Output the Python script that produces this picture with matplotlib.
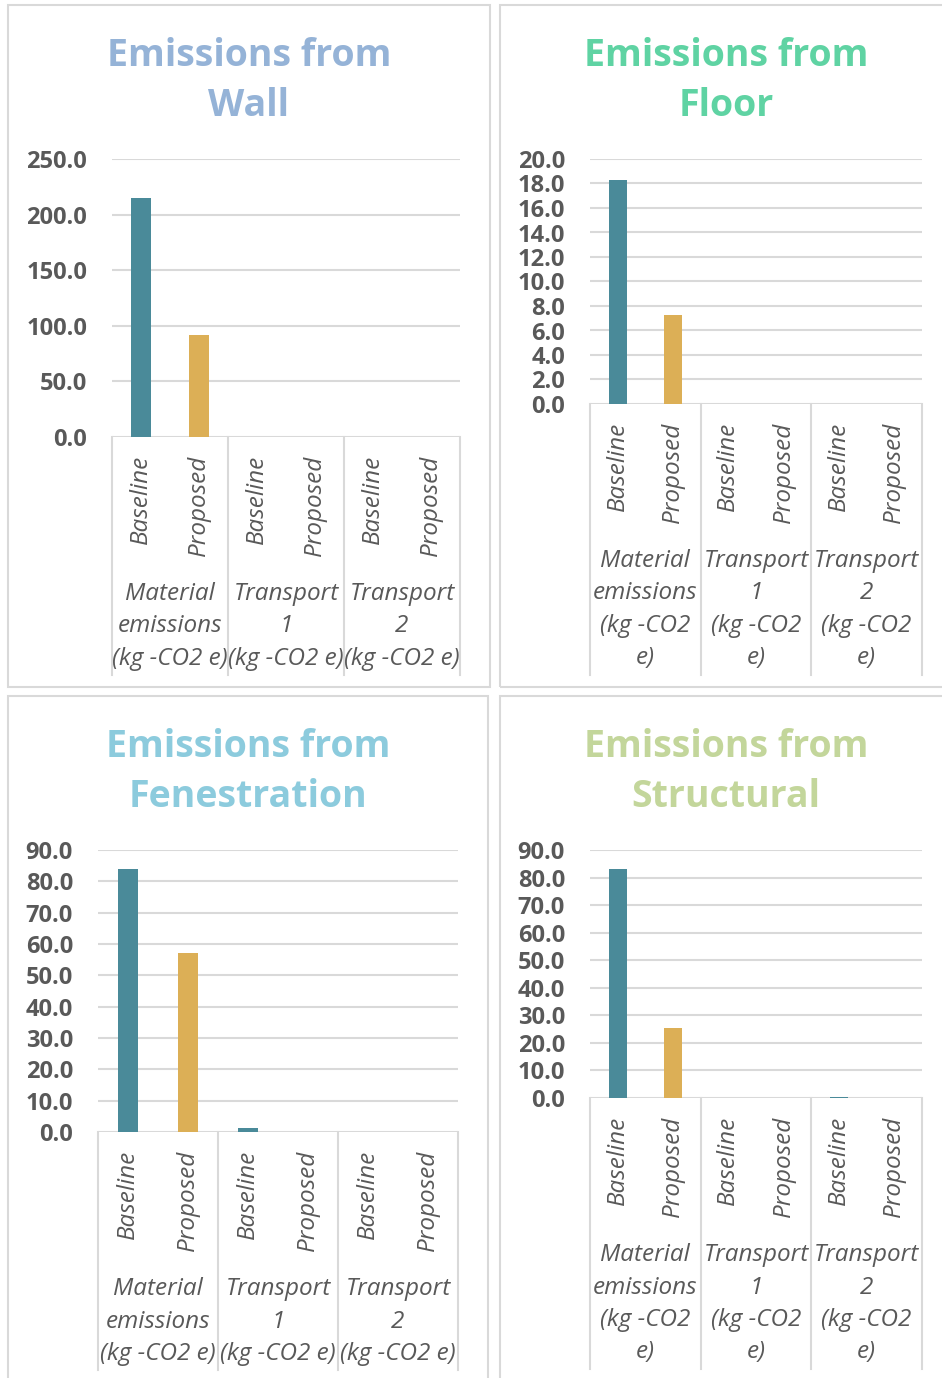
import numpy as np
import matplotlib.pyplot as plt
from matplotlib.patches import Rectangle
from matplotlib.lines import Line2D
from matplotlib.transforms import offset_copy

plt.rcParams['font.family'] = ['Open Sans', 'DejaVu Sans']

W, H = 942, 1378

series = ["Baseline", "Proposed"]
groups_wide = ["Material\nemissions\n(kg -CO2 e)", "Transport\n1\n(kg -CO2 e)", "Transport\n2\n(kg -CO2 e)"]
groups_narrow = ["Material\nemissions\n(kg -CO2\ne)", "Transport\n1\n(kg -CO2\ne)", "Transport\n2\n(kg -CO2\ne)"]

# baseline / proposed for material, transport 1, transport 2
wall_vals = [215.0, 91.7, 0.0, 0.0, 0.0, 0.0]
floor_vals = [18.3, 7.3, 0.0, 0.0, 0.0, 0.0]
fen_vals = [84.0, 57.2, 1.3, 0.0, 0.0, 0.0]
struct_vals = [83.2, 25.4, 0.0, 0.0, 0.3, 0.0]

teal = "#4a8a99"
gold = "#dcaf56"
grey = "#595959"
line_c = "#d9d9d9"


def fx(x):
    return x / W


def fy(y):
    return 1 - y / H


fig = plt.figure(figsize=(W / 100, H / 100), dpi=100)


def panel(box, axbox, title, tcolor, vals, ymax, step, groups):
    x0, y0, x1, y1 = box
    fig.add_artist(Rectangle((fx(x0), fy(y1)), (x1 - x0) / W, (y1 - y0) / H,
                             transform=fig.transFigure, fill=False, ec=line_c, lw=1.5))
    l, t, r, b = axbox
    for k, ln in enumerate(title.split("\n")):
        fig.text(fx((x0 + x1) / 2), fy(t - 103 + 50 * k), ln, ha='center', va='center',
                 fontsize=27, fontweight='bold', color=tcolor)

    ax = fig.add_axes([fx(l), fy(b), (r - l) / W, (b - t) / H])
    x = np.arange(len(vals))
    ax.bar(x, vals, width=0.33, color=[teal, gold] * 3, zorder=3)
    ax.set_xlim(-0.5, len(vals) - 0.5)
    ax.set_ylim(0, ymax)
    ticks = np.arange(0, ymax + step / 2, step)
    ax.set_yticks(ticks)
    ax.set_yticklabels([f"{v:.1f}" for v in ticks], fontweight='bold')
    ax.tick_params(axis='y', length=0, pad=18, labelsize=17, labelcolor=grey)
    ax.set_xticks([])
    ax.grid(axis='y', color=line_c, lw=1.5, zorder=0)
    ax.set_axisbelow(True)
    for s in ax.spines.values():
        s.set_visible(False)

    # category labels
    for i in x:
        tr = offset_copy(ax.get_xaxis_transform(), fig=fig, y=-18, units='dots')
        ax.text(i, 0, series[i % 2], transform=tr, rotation=90, ha='center', va='top',
                style='italic', fontsize=17.5, color=grey)
    nlines = 0
    for g, lab in enumerate(groups):
        lines = lab.split("\n")
        nlines = max(nlines, len(lines))
        for k, ln in enumerate(lines):
            tr = offset_copy(ax.get_xaxis_transform(), fig=fig, y=-(157 + 32.5 * k), units='dots')
            ax.text(2 * g + 0.5, 0, ln, transform=tr, ha='center', va='center',
                    style='italic', fontsize=17.5, color=grey)
    bottom = b + 157 + 32.5 * (nlines - 1) + 16
    for k in range(len(groups) + 1):
        xx = l + k * (r - l) / len(groups)
        fig.add_artist(Line2D([fx(xx), fx(xx)], [fy(b), fy(bottom)],
                              transform=fig.transFigure, color=line_c, lw=1.5))


panel((8, 5, 490, 687), (112, 159, 460, 437), "Emissions from\nWall", "#95b3d7",
      wall_vals, 250, 50, groups_wide)
panel((500, 5, 952, 687), (590, 159, 922, 404), "Emissions from\nFloor", "#5fd3a3",
      floor_vals, 20, 2, groups_narrow)
panel((8, 696, 488, 1400), (98, 850, 458, 1132), "Emissions from\nFenestration", "#8ccbdd",
      fen_vals, 90, 10, groups_wide)
panel((500, 696, 952, 1400), (590, 850, 922, 1098), "Emissions from\nStructural", "#c3d69b",
      struct_vals, 90, 10, groups_narrow)

fig.savefig("out.png", dpi=100)
